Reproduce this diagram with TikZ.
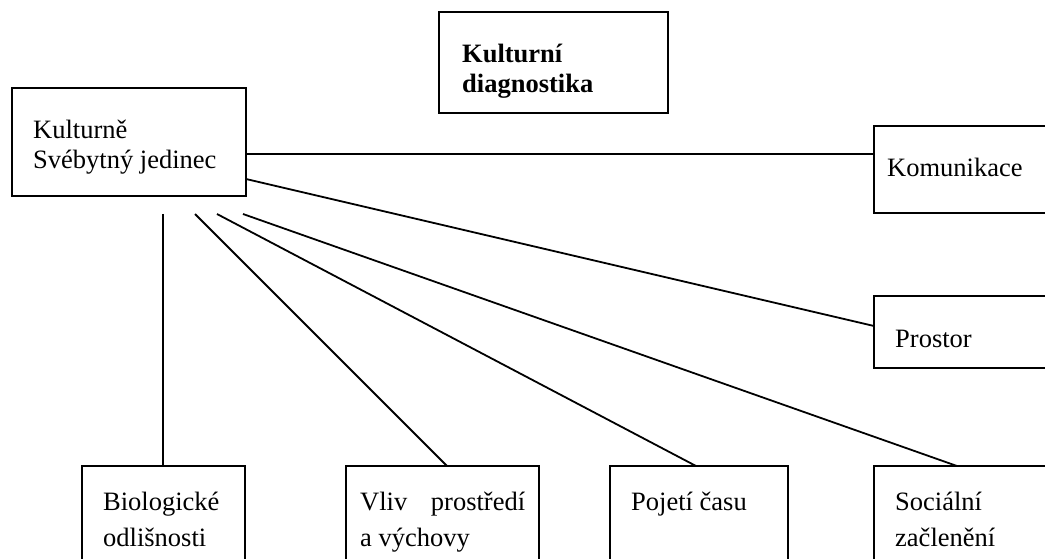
\documentclass[tikz,border=0pt]{standalone}
\usepackage{fontspec}
\setmainfont{Liberation Serif}
\begin{document}
\begin{tikzpicture}[x=1pt,y=-1pt,
  box/.style={draw, line width=1.8pt, inner sep=0pt, outer sep=0pt, anchor=north west},
  titlebox/.style={box, line width=2.6pt},
  conn/.style={line width=1.8pt},
  lblA/.style={inner sep=0pt, anchor=base west, font=\fontsize{26.5}{30}\selectfont},
  lblB/.style={inner sep=0pt, anchor=base west, font=\fontsize{26.5}{36}\selectfont}]
\useasboundingbox (0,0) rectangle (1045,559);
\clip (0,0) rectangle (1045,559);
\fill[white] (0,0) rectangle (1045,559);
% boxes
\node[titlebox, minimum width=229pt, minimum height=101pt] (T) at (439,12) {};
\node[box, minimum width=234pt, minimum height=108pt] (K) at (12,88) {};
\node[box, minimum width=196pt, minimum height=87pt] (Kom) at (874,126) {};
\node[box, minimum width=196pt, minimum height=72pt] (Pro) at (874,296) {};
\node[box, minimum width=163pt, minimum height=130pt] (Bio) at (82,466) {};
\node[box, minimum width=193pt, minimum height=130pt] (Vliv) at (346,466) {};
\node[box, minimum width=178pt, minimum height=130pt] (Poj) at (610,466) {};
\node[box, minimum width=196pt, minimum height=130pt] (Soc) at (874,466) {};
% texts
\node[lblA] (tT) at (462,63) {\parbox[t]{200pt}{\bfseries Kulturní\\diagnostika}};
\node[lblA] (tK) at (33,139) {\parbox[t]{210pt}{Kulturně\\Svébytný jedinec}};
\node[lblA] (tKom) at (887,177) {Komunikace};
\node[lblA] (tPro) at (895,347) {Prostor};
\node[lblB] (tBio) at (103,510) {\parbox[t]{140pt}{Biologické\\odlišnosti}};
\node[lblB] (tVliv) at (360,510) {\parbox[t]{170pt}{\leavevmode\hbox to 165pt{Vliv\hfill prostředí}\\a výchovy}};
\node[lblB] (tPoj) at (631,510) {Pojetí času};
\node[lblB] (tSoc) at (895,510) {\parbox[t]{140pt}{Sociální\\začlenění}};
% free ends
\coordinate (s1) at (163,214);
\coordinate (s2) at (195,214);
\coordinate (s3) at (217,214);
\coordinate (s4) at (243,214);
% connectors
\draw[conn] ([yshift=-12pt]K.east) coordinate (a) -- (a -| Kom.west);
\draw[conn] ([yshift=-37pt]K.east) -- ([yshift=6pt]Pro.west);
\draw[conn] (s1) -- (s1 |- Bio.north);
\draw[conn] (s2) -- ([xshift=4.5pt]Vliv.north);
\draw[conn] (s3) -- ([xshift=-3pt]Poj.north);
\draw[conn] (s4) -- ([xshift=-15pt]Soc.north);
\end{tikzpicture}
\end{document}
